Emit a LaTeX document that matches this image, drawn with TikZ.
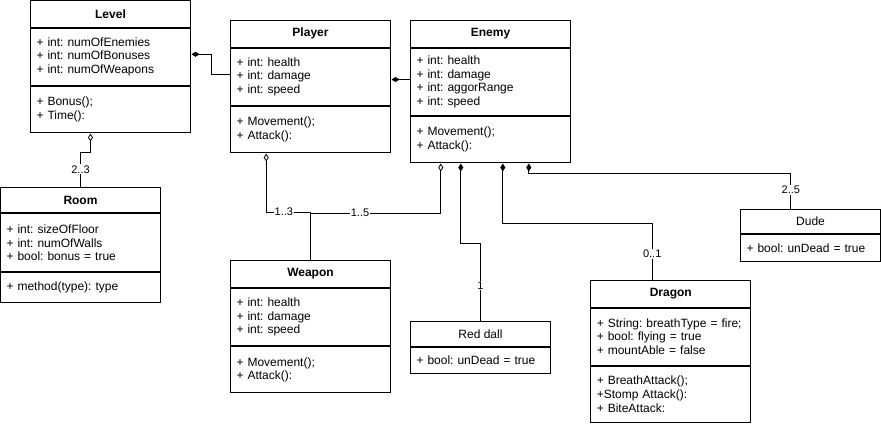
\documentclass[tikz,border=0pt]{standalone}
\usepackage{fontspec}
\setmainfont{Liberation Sans}
\usetikzlibrary{positioning,arrows.meta}
\frenchspacing
\tikzset{head/.style={draw, line width=1pt, anchor=north west, inner sep=0pt, font=\fontsize{12}{13.8}\selectfont\bfseries},
         plainhead/.style={draw, line width=1pt, anchor=north west, inner sep=0pt},
         comp/.style={draw, line width=1pt, inner xsep=6pt, inner ysep=0pt, align=left},
         own/.style={draw, line width=0.8pt, {Diamond[length=8pt,width=5pt]}-, shorten <=0.5pt},
         share/.style={draw, line width=0.8pt, {Diamond[open,length=8pt,width=5pt]}-, shorten <=0.5pt},
         mult/.style={fill=white, inner sep=1pt, font=\fontsize{11}{12}\selectfont}}

\begin{document}
\begin{tikzpicture}[x=1pt,y=-1pt,font=\fontsize{12}{13.8}\selectfont]
    \useasboundingbox (0,0) rectangle (881,424);
    % classes
    \node[head, minimum width=160, minimum height=26.7] (level) at (30,0) {Level};
    \node[comp, text width=148, minimum height=57.3, below=0pt of level] (levela) {+ int: numOfEnemies\\+ int: numOfBonuses\\+ int: numOfWeapons};
    \node[comp, text width=148, minimum height=46, below=0pt of levela] (levelm) {+ Bonus();\\+ Time():};

    \node[head, minimum width=160, minimum height=26.7] (player) at (230,20) {Player};
    \node[comp, text width=148, minimum height=57.3, below=0pt of player] (playera) {+ int: health\\+ int: damage\\+ int: speed};
    \node[comp, text width=148, minimum height=46, below=0pt of playera] (playerm) {+ Movement();\\+ Attack():};

    \node[head, minimum width=160, minimum height=26.7] (enemy) at (410,20) {Enemy};
    \node[comp, text width=148, minimum height=67.3, below=0pt of enemy] (enemya) {+ int: health\\+ int: damage\\+ int: aggorRange\\+ int: speed};
    \node[comp, text width=148, minimum height=46, below=0pt of enemya] (enemym) {+ Movement();\\+ Attack():};

    \node[head, minimum width=160, minimum height=25.6] (room) at (0,186.7) {Room};
    \node[comp, text width=148, minimum height=58, below=0pt of room] (rooma) {+ int: sizeOfFloor\\+ int: numOfWalls\\+ bool: bonus = true};
    \node[comp, text width=148, minimum height=29.7, below=0pt of rooma] (roomm) {+ method(type): type};

    \node[head, minimum width=160, minimum height=26.4] (weapon) at (230,260.3) {Weapon};
    \node[comp, text width=148, minimum height=57.6, below=0pt of weapon] (weapona) {+ int: health\\+ int: damage\\+ int: speed};
    \node[comp, text width=148, minimum height=46, below=0pt of weapona] (weaponm) {+ Movement();\\+ Attack():};

    \node[plainhead, minimum width=140, minimum height=25.3] (reddall) at (410,320.7) {Red dall};
    \node[comp, text width=128, minimum height=26.3, below=0pt of reddall] (reddalla) {+ bool: unDead = true};

    \node[head, minimum width=160, minimum height=26.7] (dragon) at (590.3,280) {Dragon};
    \node[comp, text width=148, minimum height=57, below=0pt of dragon] (dragona) {+ String: breathType = fire;\\+ bool: flying = true\\+ mountAble = false};
    \node[comp, text width=148, minimum height=56.3, below=0pt of dragona] (dragonm) {+ BreathAttack();\\+Stomp Attack():\\+ BiteAttack:};

    \node[plainhead, minimum width=140, minimum height=24.6] (dude) at (740,208.7) {Dude};
    \node[comp, text width=128, minimum height=26.7, below=0pt of dude] (dudea) {+ bool: unDead = true};

    % associations
    \draw[own] ([yshift=2.6pt]levela.east) -- ++(20,0) |- ([yshift=2.6pt]playera.west);
    \draw[own] ([yshift=-2.7pt]playera.east) -- ([yshift=2.4pt]enemya.west);
    \draw[share] ([xshift=-20pt]levelm.south) -- ++(0,19) -| node[mult, pos=0.75] {2..3} (room.north);
    \draw[share] ([xshift=-44.3pt]playerm.south) -- ++(0,59) -| node[mult, pos=0.2] {1..3} (weapon.north);
    \draw[share] ([xshift=-49.7pt]enemym.south) -- ++(0,50) -| node[mult, pos=0.31] {1..5} (weapon.north);
    \draw[own] ([xshift=-29.7pt]enemym.south) -- ++(0,80.7) -| node[mult, pos=0.77] {1} (reddall.north);
    \draw[own] ([xshift=12.3pt]enemym.south) -- ++(0,60.7) -| node[mult, pos=0.77] {0..1} ([xshift=-18.6pt]dragon.north);
    \draw[own] ([xshift=38.3pt]enemym.south) -- ++(0,10) -| node[mult, pos=0.74] {2..5} ([xshift=-19.7pt]dude.north);
\end{tikzpicture}
\end{document}
